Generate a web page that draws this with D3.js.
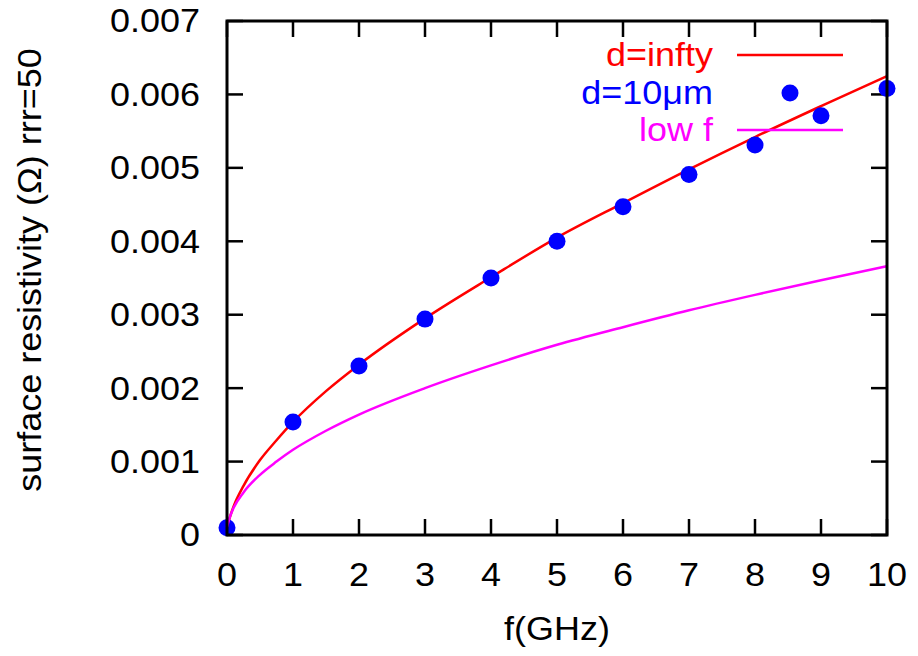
<!DOCTYPE html>
<html>
<head>
<meta charset="utf-8">
<script src="https://cdn.jsdelivr.net/npm/d3@7"></script>
<style>
  html, body { margin: 0; padding: 0; background: #fff; }
  svg { display: block; }
  text { font-family: "Liberation Sans", Arial, Helvetica, sans-serif; }
</style>
</head>
<body>
<svg id="chart" width="918" height="656"></svg>
<script>
// ---- data ----
const xTicks = [0, 1, 2, 3, 4, 5, 6, 7, 8, 9, 10];
const yTicks = [0, 0.001, 0.002, 0.003, 0.004, 0.005, 0.006, 0.007];
const yTickLabels = ["0", "0.001", "0.002", "0.003", "0.004", "0.005", "0.006", "0.007"];

const curveFreq = [0, 0.05, 0.1, 0.25, 0.5, 0.75, 1, 1.5, 2, 3, 4, 5, 6, 7, 8, 9, 10];
const dInfty    = [0.00011, 0.00026, 0.00039, 0.00067, 0.00102, 0.00129, 0.00154, 0.00196, 0.00232, 0.00295, 0.00351, 0.00405, 0.00452, 0.00498, 0.00542, 0.00584, 0.00625];
const lowF      = [0.00011, 0.00026, 0.00037, 0.00058, 0.00082, 0.001, 0.00116, 0.00142, 0.00164, 0.002, 0.00231, 0.00259, 0.00283, 0.00306, 0.00327, 0.00347, 0.00366];

const pointFreq = [0, 1, 2, 3, 4, 5, 6, 7, 8, 9, 10];
const d10um     = [0.0001, 0.00154, 0.0023, 0.00294, 0.0035, 0.004, 0.00447, 0.00491, 0.00531, 0.00571, 0.00608];

const legendLabels = ["d=infty", "d=10\u03BCm", "low f"];
const seriesColors = ["#ff0000", "#0000ff", "#ff00ff"];

// ---- layout ----
const svg = d3.select("#chart");
const L = 227, R = 887, T = 21, B = 535;
const x = d3.scaleLinear().domain([0, 10]).range([L, R]);
const y = d3.scaleLinear().domain([0, 0.007]).range([B, T]);

const FS = 33, SX = 1.09;
function label(g, tx, ty, str, anchor, color, rot) {
  const t = g.append("g").attr("transform",
      `translate(${tx},${ty})` + (rot ? ` rotate(${rot})` : "") + ` scale(${SX},1)`);
  t.append("text").attr("text-anchor", anchor).attr("dominant-baseline", "central")
    .attr("font-size", FS).attr("fill", color || "#000").text(str);
  return t;
}

svg.append("rect").attr("width", 918).attr("height", 656).attr("fill", "#fff");

// ticks (inward, all four sides)
const tickLen = 16;
const axes = svg.append("g").attr("stroke", "#000").attr("stroke-width", 2.5);
xTicks.forEach(v => {
  axes.append("line").attr("x1", x(v)).attr("x2", x(v)).attr("y1", B).attr("y2", B - tickLen);
  axes.append("line").attr("x1", x(v)).attr("x2", x(v)).attr("y1", T).attr("y2", T + tickLen);
});
yTicks.forEach(v => {
  axes.append("line").attr("x1", L).attr("x2", L + tickLen).attr("y1", y(v)).attr("y2", y(v));
  axes.append("line").attr("x1", R).attr("x2", R - tickLen).attr("y1", y(v)).attr("y2", y(v));
});

// curves
const line = d3.line().x(d => x(d[0])).y(d => y(d[1])).curve(d3.curveMonotoneX);
svg.append("path").datum(curveFreq.map((f, i) => [f, dInfty[i]]))
  .attr("d", line).attr("fill", "none").attr("stroke", seriesColors[0]).attr("stroke-width", 2.5);

svg.append("g").selectAll("circle").data(pointFreq.map((f, i) => [f, d10um[i]])).join("circle")
  .attr("cx", d => x(d[0])).attr("cy", d => y(d[1])).attr("r", 8.5).attr("fill", seriesColors[1]);

svg.append("path").datum(curveFreq.map((f, i) => [f, lowF[i]]))
  .attr("d", line).attr("fill", "none").attr("stroke", seriesColors[2]).attr("stroke-width", 2.5);

// frame
svg.append("rect").attr("x", L).attr("y", T).attr("width", R - L).attr("height", B - T)
  .attr("fill", "none").attr("stroke", "#000").attr("stroke-width", 3);

// tick labels
const tl = svg.append("g");
xTicks.forEach(v => label(tl, x(v), 575, String(v), "middle"));
yTicks.forEach((v, i) => label(tl, 200, y(v), yTickLabels[i], "end"));

// axis titles
label(svg, 557, 629, "f(GHz)", "middle");
label(svg, 30, 270, "surface resistivity (\u03A9) rrr=50", "middle", "#000", -90);

// legend
const lg = svg.append("g");
const rowsY = [55, 93, 130];
legendLabels.forEach((s, i) => label(lg, 713, rowsY[i], s, "end", seriesColors[i]));
lg.append("line").attr("x1", 737).attr("x2", 843).attr("y1", rowsY[0]).attr("y2", rowsY[0])
  .attr("stroke", seriesColors[0]).attr("stroke-width", 2.5);
lg.append("circle").attr("cx", 790).attr("cy", rowsY[1]).attr("r", 8.5).attr("fill", seriesColors[1]);
lg.append("line").attr("x1", 737).attr("x2", 843).attr("y1", rowsY[2]).attr("y2", rowsY[2])
  .attr("stroke", seriesColors[2]).attr("stroke-width", 2.5);
</script>
</body>
</html>
